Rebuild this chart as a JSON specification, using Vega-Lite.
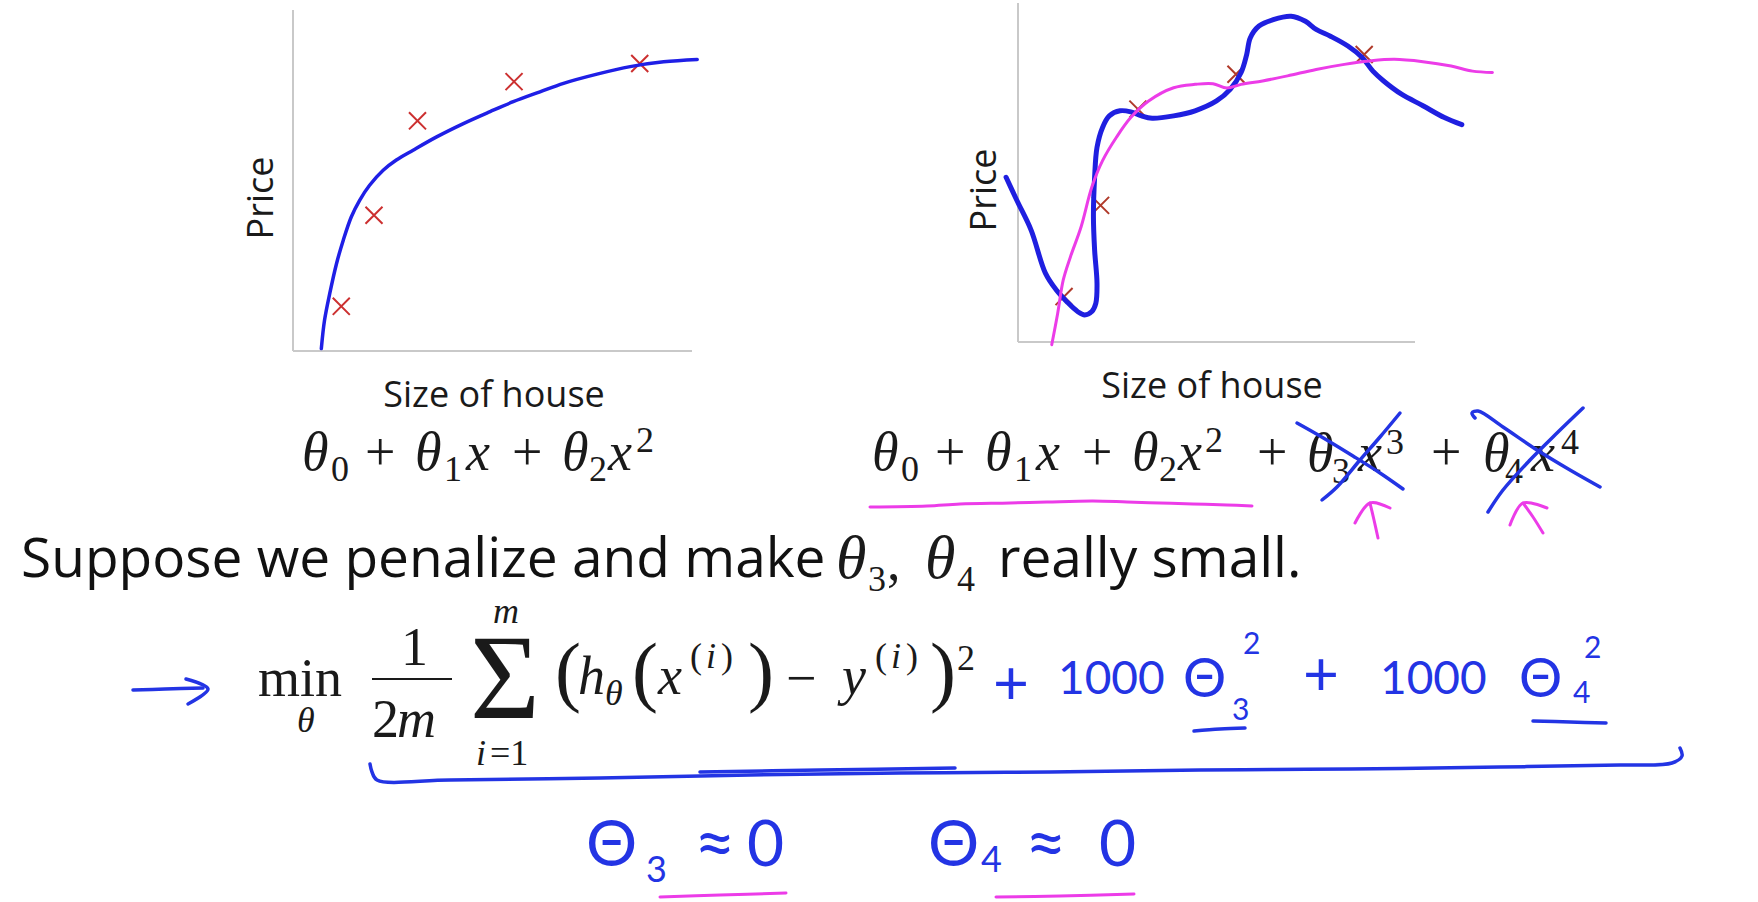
{
  "$schema": "https://vega.github.io/schema/vega-lite/v6.json",
  "width": 1758,
  "height": 902,
  "padding": 0,
  "autosize": {"type": "none"},
  "background": "white",
  "config": {"view": {"stroke": null}},
  "datasets": {
    "leftCurve": [
      {"i":1,"x":7.1,"y":0.7},{"i":2,"x":7.9,"y":9.0},{"i":3,"x":9.2,"y":16.8},{"i":4,"x":10.9,"y":25.6},
      {"i":5,"x":12.6,"y":32.5},{"i":6,"x":14.6,"y":39.3},{"i":7,"x":16.7,"y":44.2},{"i":8,"x":19.2,"y":48.6},
      {"i":9,"x":22.6,"y":53.0},{"i":10,"x":25.9,"y":56.0},{"i":11,"x":30.1,"y":58.9},{"i":12,"x":36.0,"y":62.8},
      {"i":13,"x":42.7,"y":66.7},{"i":14,"x":49.4,"y":70.2},{"i":15,"x":55.2,"y":73.1},{"i":16,"x":61.9,"y":76.0},
      {"i":17,"x":67.8,"y":78.5},{"i":18,"x":76.2,"y":81.2},{"i":19,"x":84.5,"y":83.4},{"i":20,"x":92.9,"y":84.8},
      {"i":21,"x":101.3,"y":85.5}
    ],
    "leftPts": [
      {"x":12.1,"y":13.1},{"x":20.3,"y":39.8},{"x":31.2,"y":67.5},{"x":55.4,"y":79.0},{"x":86.9,"y":84.3}
    ],
    "rightBlue": [
      {"i":1,"x":-3.0,"y":48.6},{"i":2,"x":-0.3,"y":41.8},{"i":3,"x":3.3,"y":33.0},{"i":4,"x":6.9,"y":20.3},
      {"i":5,"x":9.6,"y":15.4},{"i":6,"x":12.3,"y":11.9},{"i":7,"x":15.0,"y":9.0},{"i":8,"x":16.8,"y":8.0},
      {"i":9,"x":18.6,"y":9.0},{"i":10,"x":19.6,"y":11.4},{"i":11,"x":19.9,"y":17.3},{"i":12,"x":19.3,"y":27.1},
      {"i":13,"x":19.0,"y":36.9},{"i":14,"x":19.3,"y":48.6},{"i":15,"x":19.9,"y":57.4},{"i":16,"x":21.3,"y":63.3},
      {"i":17,"x":23.0,"y":66.7},{"i":18,"x":25.7,"y":68.2},{"i":19,"x":28.4,"y":67.9},{"i":20,"x":31.1,"y":66.7},
      {"i":21,"x":33.8,"y":66.0},{"i":22,"x":39.2,"y":66.7},{"i":23,"x":44.6,"y":68.2},{"i":24,"x":50.0,"y":71.1},
      {"i":25,"x":53.5,"y":74.6},{"i":26,"x":56.2,"y":79.5},{"i":27,"x":57.6,"y":84.8},{"i":28,"x":58.5,"y":89.7},
      {"i":29,"x":60.7,"y":93.2},{"i":30,"x":64.3,"y":95.1},{"i":31,"x":68.8,"y":96.1},{"i":32,"x":72.4,"y":94.6},
      {"i":33,"x":75.1,"y":92.2},{"i":34,"x":78.7,"y":90.2},{"i":35,"x":83.1,"y":87.3},{"i":36,"x":86.7,"y":83.9},
      {"i":37,"x":89.4,"y":79.9},{"i":38,"x":92.1,"y":77.0},{"i":39,"x":96.6,"y":73.1},{"i":40,"x":102.0,"y":69.7},
      {"i":41,"x":107.4,"y":66.2},{"i":42,"x":111.8,"y":64.1}
    ],
    "rightMagenta": [
      {"i":1,"x":8.5,"y":-0.8},{"i":2,"x":10.0,"y":8.5},{"i":3,"x":11.4,"y":18.3},{"i":4,"x":13.2,"y":25.1},
      {"i":5,"x":15.9,"y":34.0},{"i":6,"x":18.6,"y":45.7},{"i":7,"x":21.3,"y":53.5},{"i":8,"x":24.8,"y":60.4},
      {"i":9,"x":28.4,"y":66.2},{"i":10,"x":32.9,"y":71.1},{"i":11,"x":39.2,"y":75.0},{"i":12,"x":44.6,"y":76.0},
      {"i":13,"x":49.1,"y":76.2},{"i":14,"x":52.6,"y":74.9},{"i":15,"x":56.2,"y":76.0},{"i":16,"x":61.6,"y":77.0},
      {"i":17,"x":67.9,"y":78.5},{"i":18,"x":75.1,"y":80.4},{"i":19,"x":82.2,"y":81.9},{"i":20,"x":88.5,"y":82.9},
      {"i":21,"x":94.8,"y":83.4},{"i":22,"x":102.0,"y":82.7},{"i":23,"x":109.1,"y":81.4},{"i":24,"x":114.5,"y":79.9},
      {"i":25,"x":119.5,"y":79.5}
    ],
    "rightPts": [
      {"x":11.6,"y":13.4},{"x":20.8,"y":40.3},{"x":30.2,"y":68.7},{"x":54.9,"y":79.0},{"x":87.2,"y":84.8}
    ],
    "axisTitles": [
      {"label":"Size of house","sx":494,"sy":407},
      {"label":"Size of house","sx":1212,"sy":398}
    ],
    "axisTitlesRot": [
      {"label":"Price","sx":273,"sy":198},
      {"label":"Price","sx":996,"sy":190}
    ],
    "bodyText": [
      {"label":"Suppose we penalize and make","sx":21,"sy":577},
      {"label":"really small.","sx":998,"sy":577}
    ],
    "mathItalic": [
      {"label":"θ","sx":302,"sy":470},{"label":"θ","sx":415,"sy":470},{"label":"x","sx":466,"sy":470},
      {"label":"θ","sx":562,"sy":470},{"label":"x","sx":608,"sy":470},
      {"label":"θ","sx":872,"sy":470},{"label":"θ","sx":985,"sy":470},{"label":"x","sx":1036,"sy":470},
      {"label":"θ","sx":1132,"sy":470},{"label":"x","sx":1178,"sy":470},{"label":"θ","sx":1307,"sy":471},
      {"label":"x","sx":1358,"sy":471},{"label":"θ","sx":1483,"sy":471},{"label":"x","sx":1531,"sy":471},
      {"label":"h","sx":578,"sy":694},{"label":"x","sx":658,"sy":694},{"label":"y","sx":842,"sy":694},
      {"label":"m","sx":397,"sy":737}
    ],
    "mathUpright": [
      {"label":"+","sx":365,"sy":470},{"label":"+","sx":512,"sy":470},
      {"label":"+","sx":935,"sy":470},{"label":"+","sx":1082,"sy":470},{"label":"+","sx":1257,"sy":470},
      {"label":"+","sx":1431,"sy":470},
      {"label":"min","sx":258,"sy":696},{"label":"1","sx":401,"sy":665},{"label":"2","sx":372,"sy":737},
      {"label":"−","sx":786,"sy":696},{"label":",","sx":887,"sy":580}
    ],
    "mathParens": [
      {"label":"(","sx":555,"sy":697},{"label":"(","sx":632,"sy":697},
      {"label":")","sx":748,"sy":697},{"label":")","sx":930,"sy":697}
    ],
    "mathSigma": [
      {"label":"Σ","sx":470,"sy":718}
    ],
    "mathBigTheta": [
      {"label":"θ","sx":836,"sy":578},{"label":"θ","sx":925,"sy":578}
    ],
    "scriptItalic": [
      {"label":"θ","sx":297,"sy":732},{"label":"m","sx":493,"sy":623},{"label":"i","sx":476,"sy":765},
      {"label":"θ","sx":605,"sy":705},{"label":"i","sx":706,"sy":668},{"label":"i","sx":891,"sy":668}
    ],
    "scriptUpright": [
      {"label":"0","sx":331,"sy":481},{"label":"1","sx":444,"sy":481},{"label":"2","sx":589,"sy":481},
      {"label":"2","sx":636,"sy":452},
      {"label":"0","sx":901,"sy":481},{"label":"1","sx":1014,"sy":481},{"label":"2","sx":1159,"sy":481},
      {"label":"2","sx":1205,"sy":452},{"label":"3","sx":1332,"sy":483},{"label":"3","sx":1386,"sy":454},
      {"label":"4","sx":1505,"sy":483},{"label":"4","sx":1561,"sy":454},
      {"label":"=1","sx":490,"sy":765},{"label":"(","sx":690,"sy":668},{"label":")","sx":721,"sy":668},
      {"label":"(","sx":875,"sy":668},{"label":")","sx":906,"sy":668},{"label":"2","sx":957,"sy":670},
      {"label":"3","sx":868,"sy":591},{"label":"4","sx":957,"sy":591}
    ],
    "handPlus": [
      {"label":"+","sx":993,"sy":704},{"label":"+","sx":1303,"sy":695}
    ],
    "handDigits": [
      {"label":"1000","sx":1058,"sy":694},{"label":"1000","sx":1380,"sy":694}
    ],
    "handTheta": [
      {"label":"Θ","sx":1183,"sy":697},{"label":"Θ","sx":1519,"sy":697}
    ],
    "handSmall": [
      {"label":"3","sx":1232,"sy":720},{"label":"2","sx":1243,"sy":654},
      {"label":"4","sx":1573,"sy":703},{"label":"2","sx":1584,"sy":658}
    ],
    "handBig": [
      {"label":"Θ","sx":586,"sy":866},{"label":"0","sx":747,"sy":866},
      {"label":"Θ","sx":928,"sy":866},{"label":"0","sx":1099,"sy":866}
    ],
    "handApprox": [
      {"label":"≈","sx":694,"sy":868},{"label":"≈","sx":1025,"sy":868}
    ],
    "handBigSub": [
      {"label":"3","sx":646,"sy":882},{"label":"4","sx":981,"sy":872}
    ],
    "blackInk": [
      {"s":"bar","i":1,"sx":372,"sy":679},{"s":"bar","i":2,"sx":452,"sy":679}
    ],
    "blueInk": [
      {"s":"x1a","i":1,"sx":1297,"sy":423},{"s":"x1a","i":2,"sx":1320,"sy":436},{"s":"x1a","i":3,"sx":1353,"sy":456},{"s":"x1a","i":4,"sx":1380,"sy":473},{"s":"x1a","i":5,"sx":1403,"sy":489},
      {"s":"x1b","i":1,"sx":1322,"sy":500},{"s":"x1b","i":2,"sx":1337,"sy":487},{"s":"x1b","i":3,"sx":1360,"sy":460},{"s":"x1b","i":4,"sx":1380,"sy":437},{"s":"x1b","i":5,"sx":1400,"sy":413},
      {"s":"x2a","i":1,"sx":1475,"sy":418},{"s":"x2a","i":2,"sx":1472,"sy":413},{"s":"x2a","i":3,"sx":1478,"sy":411},{"s":"x2a","i":4,"sx":1503,"sy":427},{"s":"x2a","i":5,"sx":1537,"sy":450},{"s":"x2a","i":6,"sx":1570,"sy":470},{"s":"x2a","i":7,"sx":1600,"sy":487},
      {"s":"x2b","i":1,"sx":1488,"sy":512},{"s":"x2b","i":2,"sx":1503,"sy":490},{"s":"x2b","i":3,"sx":1530,"sy":460},{"s":"x2b","i":4,"sx":1557,"sy":433},{"s":"x2b","i":5,"sx":1583,"sy":408},
      {"s":"arr","i":1,"sx":133,"sy":690},{"s":"arr","i":2,"sx":165,"sy":689},{"s":"arr","i":3,"sx":203,"sy":688},
      {"s":"arrh","i":1,"sx":186,"sy":679},{"s":"arrh","i":2,"sx":208,"sy":689},{"s":"arrh","i":3,"sx":188,"sy":704},
      {"s":"ul","i":1,"sx":370,"sy":764},{"s":"ul","i":2,"sx":372,"sy":772},{"s":"ul","i":3,"sx":377,"sy":780},{"s":"ul","i":4,"sx":450,"sy":780},
      {"s":"ul","i":5,"sx":600,"sy":778},{"s":"ul","i":6,"sx":750,"sy":775},{"s":"ul","i":7,"sx":900,"sy":773},{"s":"ul","i":8,"sx":1050,"sy":772},
      {"s":"ul","i":9,"sx":1200,"sy":770},{"s":"ul","i":10,"sx":1350,"sy":769},{"s":"ul","i":11,"sx":1500,"sy":767},{"s":"ul","i":12,"sx":1620,"sy":765},
      {"s":"ul","i":13,"sx":1672,"sy":763},{"s":"ul","i":14,"sx":1682,"sy":756},{"s":"ul","i":15,"sx":1680,"sy":748},
      {"s":"ul2","i":1,"sx":700,"sy":772},{"s":"ul2","i":2,"sx":820,"sy":770},{"s":"ul2","i":3,"sx":955,"sy":768},
      {"s":"u3","i":1,"sx":1194,"sy":731},{"s":"u3","i":2,"sx":1220,"sy":729},{"s":"u3","i":3,"sx":1245,"sy":728},
      {"s":"u4","i":1,"sx":1533,"sy":721},{"s":"u4","i":2,"sx":1570,"sy":722},{"s":"u4","i":3,"sx":1606,"sy":723}
    ],
    "magentaInk": [
      {"s":"ul","i":1,"sx":870,"sy":507},{"s":"ul","i":2,"sx":927,"sy":506},{"s":"ul","i":3,"sx":960,"sy":504},{"s":"ul","i":4,"sx":1010,"sy":503},
      {"s":"ul","i":5,"sx":1047,"sy":502},{"s":"ul","i":6,"sx":1093,"sy":501},{"s":"ul","i":7,"sx":1127,"sy":502},{"s":"ul","i":8,"sx":1160,"sy":503},
      {"s":"ul","i":9,"sx":1193,"sy":504},{"s":"ul","i":10,"sx":1227,"sy":505},{"s":"ul","i":11,"sx":1252,"sy":506},
      {"s":"a1","i":1,"sx":1378,"sy":538},{"s":"a1","i":2,"sx":1374,"sy":520},{"s":"a1","i":3,"sx":1370,"sy":503},
      {"s":"a1h","i":1,"sx":1355,"sy":523},{"s":"a1h","i":2,"sx":1370,"sy":503},{"s":"a1h","i":3,"sx":1390,"sy":508},
      {"s":"a2","i":1,"sx":1543,"sy":533},{"s":"a2","i":2,"sx":1533,"sy":517},{"s":"a2","i":3,"sx":1523,"sy":503},
      {"s":"a2h","i":1,"sx":1510,"sy":525},{"s":"a2h","i":2,"sx":1523,"sy":503},{"s":"a2h","i":3,"sx":1547,"sy":508},
      {"s":"b1","i":1,"sx":660,"sy":897},{"s":"b1","i":2,"sx":720,"sy":895},{"s":"b1","i":3,"sx":786,"sy":893},
      {"s":"b2","i":1,"sx":996,"sy":897},{"s":"b2","i":2,"sx":1060,"sy":896},{"s":"b2","i":3,"sx":1134,"sy":894}
    ]
  },
  "layer": [
    {
      "layer": [
        {
          "data": {"values": [{}]},
          "mark": {"type": "rule", "color": "#c9c9c9", "strokeWidth": 2},
          "encoding": {
            "x": {"datum": 0, "type": "quantitative", "scale": {"domain": [0, 100], "range": [293, 692], "nice": false, "zero": false}, "axis": null},
            "y": {"datum": 0, "type": "quantitative", "scale": {"domain": [0, 100], "range": [351, 10], "nice": false, "zero": false}, "axis": null},
            "y2": {"datum": 100}
          }
        },
        {
          "data": {"values": [{}]},
          "mark": {"type": "rule", "color": "#c9c9c9", "strokeWidth": 2},
          "encoding": {
            "x": {"datum": 0, "type": "quantitative", "scale": {"domain": [0, 100], "range": [293, 692], "nice": false, "zero": false}, "axis": null},
            "x2": {"datum": 100},
            "y": {"datum": 0, "type": "quantitative", "scale": {"domain": [0, 100], "range": [351, 10], "nice": false, "zero": false}, "axis": null}
          }
        },
        {
          "data": {"name": "leftPts"},
          "mark": {"type": "point", "shape": "M-1,-1L1,1M-1,1L1,-1", "filled": false, "color": "#cc3030", "strokeWidth": 2, "size": 290, "opacity": 1},
          "encoding": {
            "x": {"field": "x", "type": "quantitative", "scale": {"domain": [0, 100], "range": [293, 692], "nice": false, "zero": false}, "axis": null},
            "y": {"field": "y", "type": "quantitative", "scale": {"domain": [0, 100], "range": [351, 10], "nice": false, "zero": false}, "axis": null}
          }
        },
        {
          "data": {"name": "leftCurve"},
          "mark": {"type": "line", "color": "#1f1fe6", "strokeWidth": 3.5, "interpolate": "catmull-rom", "strokeCap": "round", "strokeJoin": "round"},
          "encoding": {
            "x": {"field": "x", "type": "quantitative", "scale": {"domain": [0, 100], "range": [293, 692], "nice": false, "zero": false}, "axis": null},
            "y": {"field": "y", "type": "quantitative", "scale": {"domain": [0, 100], "range": [351, 10], "nice": false, "zero": false}, "axis": null},
            "order": {"field": "i", "type": "quantitative"}
          }
        }
      ]
    },
    {
      "layer": [
        {
          "data": {"values": [{}]},
          "mark": {"type": "rule", "color": "#c9c9c9", "strokeWidth": 2},
          "encoding": {
            "x": {"datum": 0, "type": "quantitative", "scale": {"domain": [0, 100], "range": [1018, 1415], "nice": false, "zero": false}, "axis": null},
            "y": {"datum": 0, "type": "quantitative", "scale": {"domain": [0, 100], "range": [342, 3], "nice": false, "zero": false}, "axis": null},
            "y2": {"datum": 100}
          }
        },
        {
          "data": {"values": [{}]},
          "mark": {"type": "rule", "color": "#c9c9c9", "strokeWidth": 2},
          "encoding": {
            "x": {"datum": 0, "type": "quantitative", "scale": {"domain": [0, 100], "range": [1018, 1415], "nice": false, "zero": false}, "axis": null},
            "x2": {"datum": 100},
            "y": {"datum": 0, "type": "quantitative", "scale": {"domain": [0, 100], "range": [342, 3], "nice": false, "zero": false}, "axis": null}
          }
        },
        {
          "data": {"name": "rightPts"},
          "mark": {"type": "point", "shape": "M-1,-1L1,1M-1,1L1,-1", "filled": false, "color": "#b03a2a", "strokeWidth": 2, "size": 290, "opacity": 1},
          "encoding": {
            "x": {"field": "x", "type": "quantitative", "scale": {"domain": [0, 100], "range": [1018, 1415], "nice": false, "zero": false}, "axis": null},
            "y": {"field": "y", "type": "quantitative", "scale": {"domain": [0, 100], "range": [342, 3], "nice": false, "zero": false}, "axis": null}
          }
        },
        {
          "data": {"name": "rightBlue"},
          "mark": {"type": "line", "color": "#1f1fe0", "strokeWidth": 5, "interpolate": "catmull-rom", "strokeCap": "round", "strokeJoin": "round"},
          "encoding": {
            "x": {"field": "x", "type": "quantitative", "scale": {"domain": [0, 100], "range": [1018, 1415], "nice": false, "zero": false}, "axis": null},
            "y": {"field": "y", "type": "quantitative", "scale": {"domain": [0, 100], "range": [342, 3], "nice": false, "zero": false}, "axis": null},
            "order": {"field": "i", "type": "quantitative"}
          }
        },
        {
          "data": {"name": "rightMagenta"},
          "mark": {"type": "line", "color": "#ec3ce8", "strokeWidth": 3, "interpolate": "catmull-rom", "strokeCap": "round", "strokeJoin": "round"},
          "encoding": {
            "x": {"field": "x", "type": "quantitative", "scale": {"domain": [0, 100], "range": [1018, 1415], "nice": false, "zero": false}, "axis": null},
            "y": {"field": "y", "type": "quantitative", "scale": {"domain": [0, 100], "range": [342, 3], "nice": false, "zero": false}, "axis": null},
            "order": {"field": "i", "type": "quantitative"}
          }
        }
      ]
    },
    {
      "encoding": {
        "x": {"field": "sx", "type": "quantitative", "scale": {"domain": [0, 1758], "range": [0, 1758], "nice": false, "zero": false}, "axis": null},
        "y": {"field": "sy", "type": "quantitative", "scale": {"domain": [0, 902], "range": [0, 902], "nice": false, "zero": false}, "axis": null}
      },
      "layer": [
        {
          "data": {"name": "axisTitles"},
          "mark": {"type": "text", "font": "Open Sans", "fontSize": 36, "color": "#1a1a1a", "align": "center", "baseline": "alphabetic"},
          "encoding": {"text": {"field": "label"}}
        },
        {
          "data": {"name": "axisTitlesRot"},
          "mark": {"type": "text", "font": "Open Sans", "fontSize": 36, "color": "#1a1a1a", "align": "center", "baseline": "alphabetic", "angle": 270},
          "encoding": {"text": {"field": "label"}}
        },
        {
          "data": {"name": "bodyText"},
          "mark": {"type": "text", "font": "Open Sans", "fontSize": 55, "color": "#111111", "align": "left", "baseline": "alphabetic"},
          "encoding": {"text": {"field": "label"}}
        },
        {
          "data": {"name": "mathItalic"},
          "mark": {"type": "text", "font": "Liberation Serif", "fontStyle": "italic", "fontSize": 54, "color": "#1a1a1a", "align": "left", "baseline": "alphabetic"},
          "encoding": {"text": {"field": "label"}}
        },
        {
          "data": {"name": "mathUpright"},
          "mark": {"type": "text", "font": "Liberation Serif", "fontSize": 54, "color": "#1a1a1a", "align": "left", "baseline": "alphabetic"},
          "encoding": {"text": {"field": "label"}}
        },
        {
          "data": {"name": "mathParens"},
          "mark": {"type": "text", "font": "Liberation Serif", "fontSize": 78, "color": "#1a1a1a", "align": "left", "baseline": "alphabetic"},
          "encoding": {"text": {"field": "label"}}
        },
        {
          "data": {"name": "mathSigma"},
          "mark": {"type": "text", "font": "Liberation Serif", "fontSize": 120, "color": "#1a1a1a", "align": "left", "baseline": "alphabetic"},
          "encoding": {"text": {"field": "label"}}
        },
        {
          "data": {"name": "mathBigTheta"},
          "mark": {"type": "text", "font": "Liberation Serif", "fontStyle": "italic", "fontSize": 62, "color": "#1a1a1a", "align": "left", "baseline": "alphabetic"},
          "encoding": {"text": {"field": "label"}}
        },
        {
          "data": {"name": "scriptItalic"},
          "mark": {"type": "text", "font": "Liberation Serif", "fontStyle": "italic", "fontSize": 36, "color": "#1a1a1a", "align": "left", "baseline": "alphabetic"},
          "encoding": {"text": {"field": "label"}}
        },
        {
          "data": {"name": "scriptUpright"},
          "mark": {"type": "text", "font": "Liberation Serif", "fontSize": 36, "color": "#1a1a1a", "align": "left", "baseline": "alphabetic"},
          "encoding": {"text": {"field": "label"}}
        },
        {
          "data": {"name": "handPlus"},
          "mark": {"type": "text", "font": "Lato", "fontSize": 62, "color": "#2334e4", "align": "left", "baseline": "alphabetic"},
          "encoding": {"text": {"field": "label"}}
        },
        {
          "data": {"name": "handDigits"},
          "mark": {"type": "text", "font": "Lato", "fontSize": 46, "color": "#2334e4", "align": "left", "baseline": "alphabetic"},
          "encoding": {"text": {"field": "label"}}
        },
        {
          "data": {"name": "handTheta"},
          "mark": {"type": "text", "font": "Lato", "fontSize": 54, "color": "#2334e4", "align": "left", "baseline": "alphabetic"},
          "encoding": {"text": {"field": "label"}}
        },
        {
          "data": {"name": "handSmall"},
          "mark": {"type": "text", "font": "Lato", "fontSize": 30, "color": "#2334e4", "align": "left", "baseline": "alphabetic"},
          "encoding": {"text": {"field": "label"}}
        },
        {
          "data": {"name": "handBig"},
          "mark": {"type": "text", "font": "Lato", "fontSize": 64, "color": "#2334e4", "align": "left", "baseline": "alphabetic"},
          "encoding": {"text": {"field": "label"}}
        },
        {
          "data": {"name": "handApprox"},
          "mark": {"type": "text", "font": "Lato", "fontSize": 72, "color": "#2334e4", "align": "left", "baseline": "alphabetic"},
          "encoding": {"text": {"field": "label"}}
        },
        {
          "data": {"name": "handBigSub"},
          "mark": {"type": "text", "font": "Lato", "fontSize": 36, "color": "#2334e4", "align": "left", "baseline": "alphabetic"},
          "encoding": {"text": {"field": "label"}}
        },
        {
          "data": {"name": "blackInk"},
          "mark": {"type": "line", "color": "#1a1a1a", "strokeWidth": 2.2},
          "encoding": {"detail": {"field": "s"}, "order": {"field": "i", "type": "quantitative"}}
        },
        {
          "data": {"name": "blueInk"},
          "mark": {"type": "line", "color": "#2334e4", "strokeWidth": 3.5, "interpolate": "catmull-rom", "strokeCap": "round", "strokeJoin": "round"},
          "encoding": {"detail": {"field": "s"}, "order": {"field": "i", "type": "quantitative"}}
        },
        {
          "data": {"name": "magentaInk"},
          "mark": {"type": "line", "color": "#ec3ce8", "strokeWidth": 3, "interpolate": "catmull-rom", "strokeCap": "round", "strokeJoin": "round"},
          "encoding": {"detail": {"field": "s"}, "order": {"field": "i", "type": "quantitative"}}
        }
      ]
    }
  ],
  "resolve": {"scale": {"x": "independent", "y": "independent"}}
}
